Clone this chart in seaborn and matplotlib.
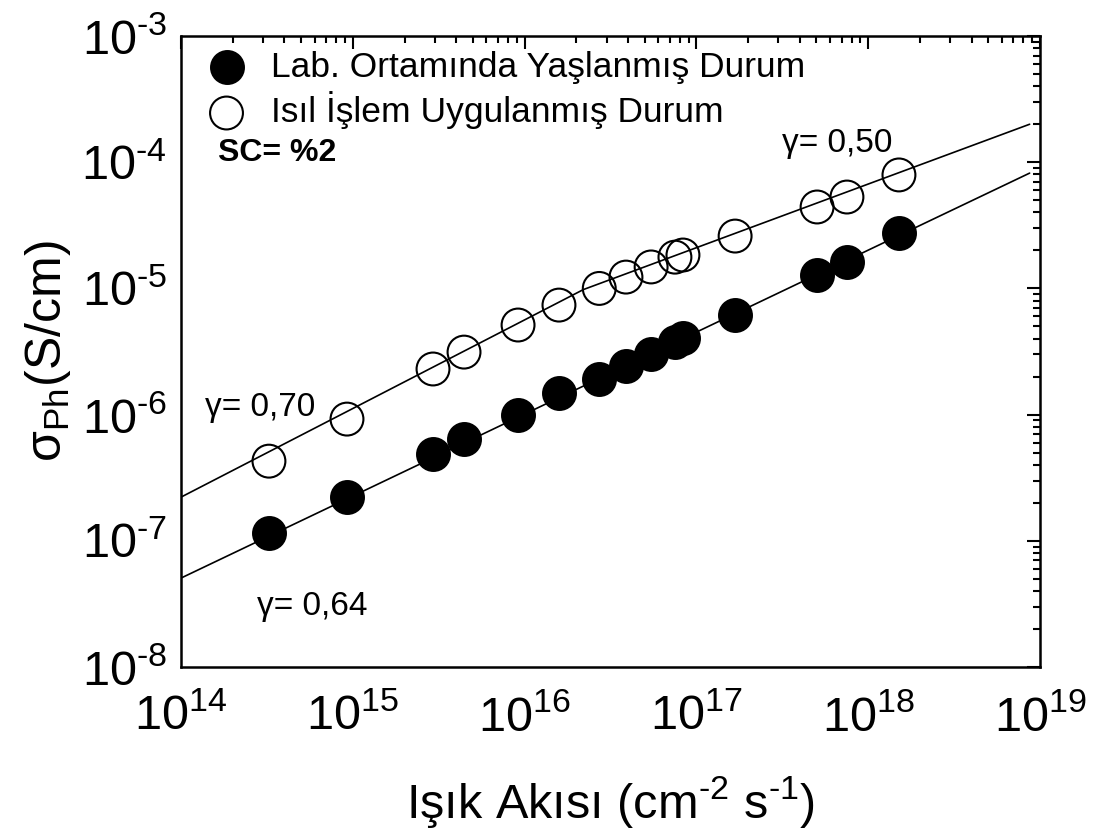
import numpy as np
import pandas as pd
import matplotlib
matplotlib.use("Agg")
import matplotlib.pyplot as plt
import seaborn as sns
from matplotlib.ticker import LogLocator, FuncFormatter, NullFormatter

# ---- data ----
flux = [3.25e14, 9.25e14, 2.93e15, 4.44e15, 9.16e15, 1.585e16, 2.72e16, 3.89e16,
        5.45e16, 7.5e16, 8.35e16, 1.68e17, 5.04e17, 7.52e17, 1.51e18]
sigma_lab = [1.15e-7, 2.22e-7, 4.88e-7, 6.41e-7, 9.9e-7, 1.48e-6, 1.91e-6, 2.43e-6,
             3.02e-6, 3.76e-6, 4.05e-6, 6.15e-6, 1.28e-5, 1.62e-5, 2.75e-5]
sigma_heat = [4.28e-7, 9.22e-7, 2.3e-6, 3.13e-6, 5.13e-6, 7.38e-6, 1.0e-5, 1.23e-5,
              1.48e-5, 1.77e-5, 1.84e-5, 2.6e-5, 4.42e-5, 5.3e-5, 7.93e-5]

fit_lab_x = [1e14, 8.7e18]
fit_lab_y = [5.07e-8, 8.2e-5]
fit_heat_x = [1e14, 2.2e16, 8.7e18]
fit_heat_y = [2.22e-7, 9.8e-6, 2.0e-4]

label_lab = "Lab. Ortamında Yaşlanmış Durum"
label_heat = "Isıl İşlem Uygulanmış Durum"

sns.set_theme(style="white")
plt.rcParams["font.family"] = ["Liberation Sans", "DejaVu Sans"]
plt.rcParams["mathtext.fontset"] = "custom"
plt.rcParams["mathtext.rm"] = "Liberation Sans"
plt.rcParams["mathtext.it"] = "Liberation Sans:italic"
plt.rcParams["mathtext.bf"] = "Liberation Sans:bold"
for k in ["text.color", "axes.labelcolor", "xtick.color", "ytick.color", "axes.edgecolor"]:
    plt.rcParams[k] = "black"

fig = plt.figure(figsize=(11.01, 8.38), dpi=100)
ax = fig.add_axes([0.1644, 0.204, 0.7802, 0.753])

df_lab = pd.DataFrame({"flux": flux, "sigma": sigma_lab})
df_heat = pd.DataFrame({"flux": flux, "sigma": sigma_heat})

sns.lineplot(x=fit_lab_x, y=fit_lab_y, ax=ax, color="black", lw=1.2,
             estimator=None, sort=False, zorder=1)
sns.lineplot(x=fit_heat_x, y=fit_heat_y, ax=ax, color="black", lw=1.2,
             estimator=None, sort=False, zorder=1)

sns.scatterplot(data=df_lab, x="flux", y="sigma", ax=ax, s=560, color="black",
                edgecolor="black", linewidth=1.5, label=label_lab, zorder=3)
sns.scatterplot(data=df_heat, x="flux", y="sigma", ax=ax, s=560, facecolor="none",
                edgecolor="black", linewidth=1.5, label=label_heat, zorder=3)

ax.set_xscale("log")
ax.set_yscale("log")
ax.set_xlim(1e14, 1e19)
ax.set_ylim(1e-8, 1e-3)

def fmt(v, pos):
    e = int(round(np.log10(v)))
    return r"10$^{\text{%d}}$" % e

ax.xaxis.set_major_locator(LogLocator(base=10, numticks=10))
ax.yaxis.set_major_locator(LogLocator(base=10, numticks=10))
ax.xaxis.set_minor_locator(LogLocator(base=10, subs=np.arange(2, 10), numticks=20))
ax.yaxis.set_minor_locator(LogLocator(base=10, subs=np.arange(2, 10), numticks=20))
ax.xaxis.set_major_formatter(FuncFormatter(fmt))
ax.yaxis.set_major_formatter(FuncFormatter(fmt))
ax.xaxis.set_minor_formatter(NullFormatter())
ax.yaxis.set_minor_formatter(NullFormatter())

ax.tick_params(which="both", direction="in", top=True, right=True, color="black",
               labelcolor="black")
ax.tick_params(which="major", length=9.5, width=1.5)
ax.tick_params(which="minor", length=5, width=1.5)
ax.tick_params(axis="x", which="major", labelsize=35, pad=20)
ax.tick_params(axis="y", which="major", labelsize=35, pad=10)

for sp in ax.spines.values():
    sp.set_visible(True)
    sp.set_color("black")
    sp.set_linewidth(1.8)

ax.set_xlabel(r"Işık Akısı (cm$^{\text{-2}}$ s$^{\text{-1}}$)", fontsize=35, labelpad=24)
ax.set_ylabel(r"σ$_{\text{Ph}}$(S/cm)", fontsize=36, labelpad=6)

leg = ax.legend(loc="upper left", bbox_to_anchor=(0.034, 0.977), frameon=False,
                fontsize=25.5, handlelength=0.92, handletextpad=0.8,
                labelspacing=0.22, borderpad=0, borderaxespad=0)
for t in leg.get_texts():
    t.set_color("black")

def fx(px):
    return (px - 181) / 859.0

def fy(py):
    return (667 - py) / 631.0

ax.text(fx(218), fy(153), "SC= %2", transform=ax.transAxes, fontsize=23,
        fontweight="bold", va="center", ha="left")
ax.text(fx(205), fy(407), "γ= 0,70", transform=ax.transAxes, fontsize=24,
        va="center", ha="left")
ax.text(fx(257), fy(606), "γ= 0,64", transform=ax.transAxes, fontsize=24,
        va="center", ha="left")
ax.text(fx(782), fy(143), "γ= 0,50", transform=ax.transAxes, fontsize=24,
        va="center", ha="left")

fig.savefig("out.png", dpi=100)
